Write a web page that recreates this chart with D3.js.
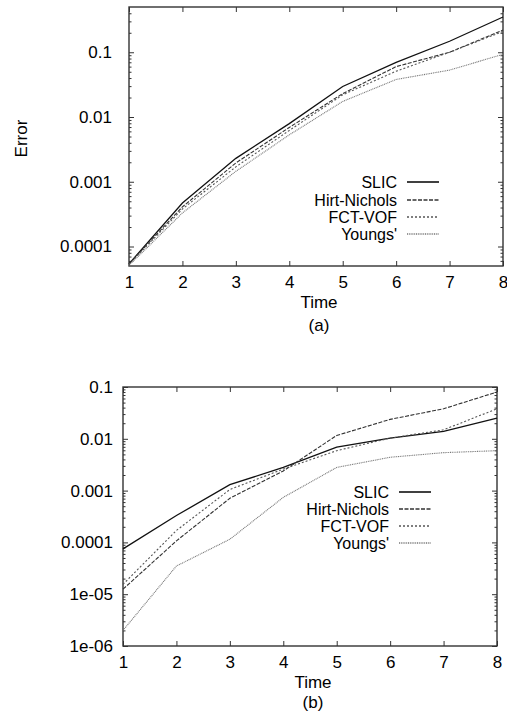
<!DOCTYPE html>
<html>
<head>
<meta charset="UTF-8">
<title>Error vs Time</title>
<script src="https://d3js.org/d3.v7.min.js"></script>
<style>
  body { margin: 0; background: #fff; }
  text { font-family: "Liberation Sans", Arial, sans-serif; fill: #000; }
  .domain { display: none; }
  .tick line { stroke: #333; }
</style>
</head>
<body>
<svg width="507" height="720"></svg>
<script>
// data
const times = [1, 2, 3, 4, 5, 6, 7, 8];
const seriesNames = ["SLIC", "Hirt-Nichols", "FCT-VOF", "Youngs'"];

const topSlic   = [5.4e-5, 4.7e-4, 2.3e-3, 7.9e-3, 0.0296, 0.070, 0.148, 0.35];
const topHirt   = [5.4e-5, 4.1e-4, 1.95e-3, 6.9e-3, 0.023, 0.060, 0.100, 0.22];
const topFct    = [5.3e-5, 3.8e-4, 1.7e-3, 6.2e-3, 0.022, 0.051, 0.100, 0.21];
const topYoungs = [5.1e-5, 3.3e-4, 1.45e-3, 5.3e-3, 0.0174, 0.038, 0.053, 0.093];

const botSlic   = [7.5e-5, 3.3e-4, 1.3e-3, 2.8e-3, 6.9e-3, 0.0103, 0.0139, 0.025];
const botHirt   = [1.25e-5, 1.07e-4, 7.1e-4, 2.4e-3, 0.0116, 0.0237, 0.038, 0.080];
const botFct    = [1.55e-5, 1.7e-4, 1.05e-3, 2.6e-3, 5.9e-3, 0.0103, 0.0149, 0.038];
const botYoungs = [2.0e-6, 3.5e-5, 1.15e-4, 7.4e-4, 2.8e-3, 4.4e-3, 5.4e-3, 5.9e-3];

const topTicks = [0.0001, 0.001, 0.01, 0.1];
const topTickLabels = ["0.0001", "0.001", "0.01", "0.1"];
const botTicks = [1e-6, 1e-5, 0.0001, 0.001, 0.01, 0.1];
const botTickLabels = ["1e-06", "1e-05", "0.0001", "0.001", "0.01", "0.1"];

// line styles per series
const styles = [
  { stroke: "#111", dash: null, width: 1.3 },
  { stroke: "#333", dash: "4,1.5", width: 1.1 },
  { stroke: "#555", dash: "2,2", width: 1.1 },
  { stroke: "#777", dash: "1,0.8", width: 1.1 }
];

const FS = "17px";
const svg = d3.select("svg");

function drawPanel(cfg) {
  const w = cfg.right - cfg.left, h = cfg.bottom - cfg.top;
  const g = svg.append("g").attr("transform", `translate(${cfg.left},${cfg.top})`);

  const x = d3.scaleLinear().domain([1, 8]).range([0, w]);
  const y = d3.scaleLog().domain(cfg.domain).range([h, 0]);

  // minor log ticks (2..9 per decade)
  const minors = [];
  for (let e = -7; e <= 0; e++) {
    for (let m = 2; m <= 9; m++) {
      const v = m * Math.pow(10, e);
      if (v > cfg.domain[0] && v < cfg.domain[1]) minors.push(v);
    }
  }
  const fmt = d => cfg.labels[cfg.ticks.indexOf(d)];

  // left axis
  g.append("g").call(d3.axisLeft(y).tickValues(cfg.ticks).tickFormat(fmt)
      .tickSizeInner(-5).tickSizeOuter(0).tickPadding(cfg.yPad))
    .selectAll("text").style("font-size", FS).attr("fill", "#000");
  g.append("g").call(d3.axisLeft(y).tickValues(minors).tickFormat("").tickSizeInner(-2.5).tickSizeOuter(0));
  // right axis (mirrored ticks)
  g.append("g").attr("transform", `translate(${w},0)`)
    .call(d3.axisRight(y).tickValues(cfg.ticks).tickFormat("").tickSizeInner(-5).tickSizeOuter(0));
  g.append("g").attr("transform", `translate(${w},0)`)
    .call(d3.axisRight(y).tickValues(minors).tickFormat("").tickSizeInner(-2.5).tickSizeOuter(0));
  // bottom / top axis
  g.append("g").attr("transform", `translate(0,${h})`)
    .call(d3.axisBottom(x).tickValues(times).tickFormat(d3.format("d"))
      .tickSizeInner(-5).tickSizeOuter(0).tickPadding(10))
    .selectAll("text").style("font-size", FS).attr("fill", "#000");
  g.append("g").call(d3.axisTop(x).tickValues(times).tickFormat("").tickSizeInner(-5).tickSizeOuter(0));

  // frame
  g.append("rect").attr("width", w).attr("height", h)
    .attr("fill", "none").attr("stroke", "#333").attr("stroke-width", 1.4);

  const line = d3.line().x((d, i) => x(times[i])).y(d => y(d));
  cfg.series.forEach((vals, i) => {
    const s = styles[i];
    g.append("path").datum(vals)
      .attr("fill", "none").attr("stroke", s.stroke)
      .attr("stroke-width", s.width)
      .attr("stroke-dasharray", s.dash)
      .attr("d", line);
  });

  // legend
  seriesNames.forEach((name, i) => {
    const ly = cfg.legendY[i] - cfg.top;
    const s = styles[i];
    g.append("text").attr("x", cfg.legendX - cfg.left).attr("y", ly)
      .attr("dy", "0.36em").attr("text-anchor", "end")
      .style("font-size", "16px").text(name);
    g.append("line")
      .attr("x1", cfg.legendX - cfg.left + 10).attr("x2", cfg.legendX - cfg.left + 42)
      .attr("y1", ly).attr("y2", ly)
      .attr("stroke", s.stroke).attr("stroke-width", s.width + 0.3)
      .attr("stroke-dasharray", s.dash);
  });

  // axis titles
  svg.append("text").attr("x", (cfg.left + cfg.right) / 2 + 3).attr("y", cfg.bottom + 36)
    .attr("dy", "0.36em").attr("text-anchor", "middle").style("font-size", FS).text("Time");
  svg.append("text").attr("x", (cfg.left + cfg.right) / 2 + 3).attr("y", cfg.capY)
    .attr("dy", "0.36em").attr("text-anchor", "middle").style("font-size", FS).text(cfg.caption);
  if (cfg.yTitle) {
    svg.append("text").attr("transform", `translate(21,${(cfg.top + cfg.bottom) / 2 + 2}) rotate(-90)`)
      .attr("dy", "0.36em").attr("text-anchor", "middle").style("font-size", FS).text(cfg.yTitle);
  }
}

drawPanel({
  left: 129, right: 503, top: 7, bottom: 266,
  domain: [5e-5, 0.5], ticks: topTicks, labels: topTickLabels, yPad: 17,
  series: [topSlic, topHirt, topFct, topYoungs],
  legendX: 397, legendY: [182, 200, 217, 234],
  caption: "(a)", capY: 325, yTitle: "Error"
});

drawPanel({
  left: 123, right: 497, top: 387, bottom: 646,
  domain: [1e-6, 0.1], ticks: botTicks, labels: botTickLabels, yPad: 10,
  series: [botSlic, botHirt, botFct, botYoungs],
  legendX: 389, legendY: [492, 509, 526, 543],
  caption: "(b)", capY: 702, yTitle: null
});
</script>
</body>
</html>
